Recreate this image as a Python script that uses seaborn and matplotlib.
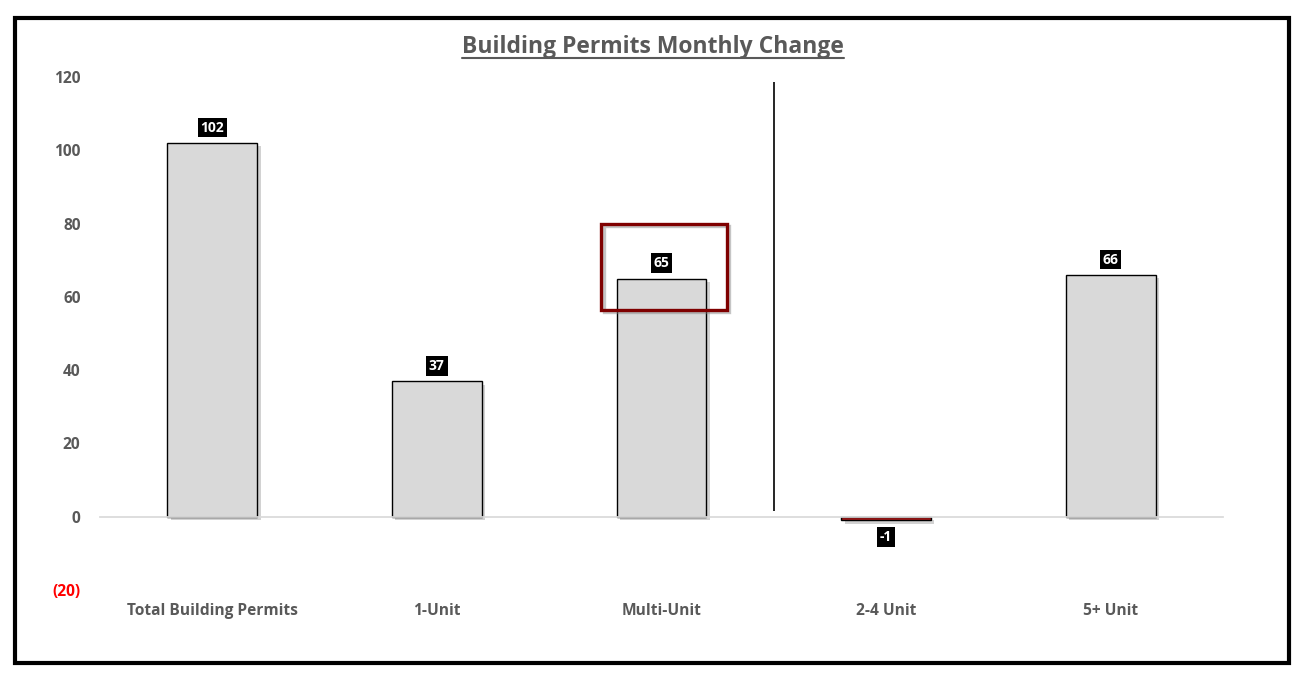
import matplotlib
matplotlib.use("Agg")
import matplotlib.pyplot as plt
import matplotlib.patheffects as pe
from matplotlib.patches import Rectangle
from matplotlib.lines import Line2D
import seaborn as sns

# Chart data
categories = ["Total Building Permits", "1-Unit", "Multi-Unit", "2-4 Unit", "5+ Unit"]
changes = [102, 37, 65, -1, 66]
y_ticks = [-20, 0, 20, 40, 60, 80, 100, 120]
y_tick_labels = ["(20)", "0", "20", "40", "60", "80", "100", "120"]

sns.set_theme(style="white")
plt.rcParams["font.family"] = ["Open Sans", "DejaVu Sans"]

gray_text = "#595959"
bar_colors = {c: ("#c00000" if v < 0 else "#d9d9d9") for c, v in zip(categories, changes)}

fig = plt.figure(figsize=(13.1, 6.81), dpi=100)
ax = fig.add_axes([0.0763, 0.1336, 0.8573, 0.7533])

sns.barplot(x=categories, y=changes, hue=categories, palette=bar_colors,
            width=0.4, edgecolor="black", linewidth=1, legend=False, ax=ax)

shadow = [pe.SimplePatchShadow(offset=(2.5, -2.5), alpha=0.35, shadow_rgbFace="#7f7f7f"), pe.Normal()]
for patch in ax.patches:
    patch.set_path_effects(shadow)

ax.set_xlim(-0.5, len(categories) - 0.5)
ax.set_ylim(-20, 120)
ax.set_yticks(y_ticks)
ax.set_yticklabels(y_tick_labels)
for lbl in ax.get_yticklabels():
    lbl.set_color("red" if lbl.get_text().startswith("(") else gray_text)
    lbl.set_fontweight("bold")
    lbl.set_fontsize(11.2)
ax.tick_params(axis="y", length=0, pad=14)

# x axis sits at zero, labels at the bottom
for s in ["left", "right", "top"]:
    ax.spines[s].set_visible(False)
ax.spines["bottom"].set_position(("data", 0))
ax.spines["bottom"].set_color("#d9d9d9")
ax.set_xticks([i - 0.5 for i in range(len(categories) + 1)], minor=True)
ax.tick_params(axis="x", which="minor", length=4, color="#d9d9d9", direction="out")
ax.tick_params(axis="x", which="major", length=0, pad=62)
ax.set_xticks(range(len(categories)))
ax.set_xticklabels(categories, fontsize=11.2, fontweight="bold", color=gray_text)
ax.set_xlabel("")
ax.set_ylabel("")

# value labels
for i, v in enumerate(changes):
    ax.annotate(str(v), (i, v), xytext=(0, 6 if v >= 0 else -7), textcoords="offset points",
                ha="center", va="bottom" if v >= 0 else "top",
                color="white", fontsize=10, fontweight="bold", zorder=6,
                bbox=dict(boxstyle="square,pad=0.2", fc="black", ec="none"))

# separator line between groups
ax.vlines(2.5, 1.5, 118.6, color="black", linewidth=1.2)

# highlight box around Multi-Unit
ax.add_patch(Rectangle((1.73, 56.5), 0.56, 23.5, fill=False, ec="#7f0000", lw=2.4,
                       path_effects=[pe.SimpleLineShadow(offset=(2, -2), shadow_color="#7f7f7f", alpha=0.45),
                                     pe.Normal()],
                       clip_on=False, zorder=5))

# title with underline
title = fig.text(0.4982, 0.931, "Building Permits Monthly Change", ha="center", va="center",
                 fontsize=16.5, fontweight="bold", color=gray_text)
fig.canvas.draw()
bb = title.get_window_extent().transformed(fig.transFigure.inverted())
fig.add_artist(Line2D([bb.x0, bb.x1], [bb.y0 + 0.002, bb.y0 + 0.002], color=gray_text, lw=1.5))

# outer border
fig.add_artist(Rectangle((15 / 1310, 1 - 663 / 681), 1274 / 1310, 645 / 681, fill=False,
                         ec="black", lw=3, transform=fig.transFigure))

fig.savefig("out.png", dpi=100)
